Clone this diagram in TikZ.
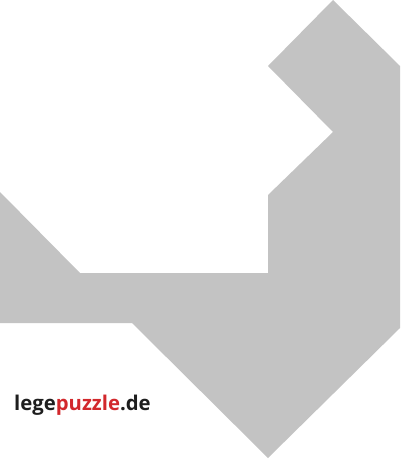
\documentclass[tikz,border=0pt]{standalone}
\usepackage{fontspec}
\setmainfont{Open Sans}
\definecolor{piece}{HTML}{C3C3C3}
\definecolor{logored}{HTML}{D2282C}
\definecolor{logodark}{HTML}{1E1E1E}

\begin{document}
\begin{tikzpicture}[x=1pt, y=-1pt, font={\fontsize{20.3}{24}\selectfont\bfseries},
every node/.style={inner sep=0 pt, anchor=base west}]

\useasboundingbox (0,0) rectangle (400,460);

% tangram figure
\fill[piece]
(333,0) -- (400,66) -- (400,328) -- (268,458) -- (132,323)
-- (0,323) -- (0,192) -- (80,273) -- (268,273) -- (268,195)
-- (333,132) -- (268,66) -- cycle;

% logo
\node[text=logodark] (logo) at (14,410)
{lege\textcolor{logored}{puzzle}.de};

\end{tikzpicture}
\end{document}
